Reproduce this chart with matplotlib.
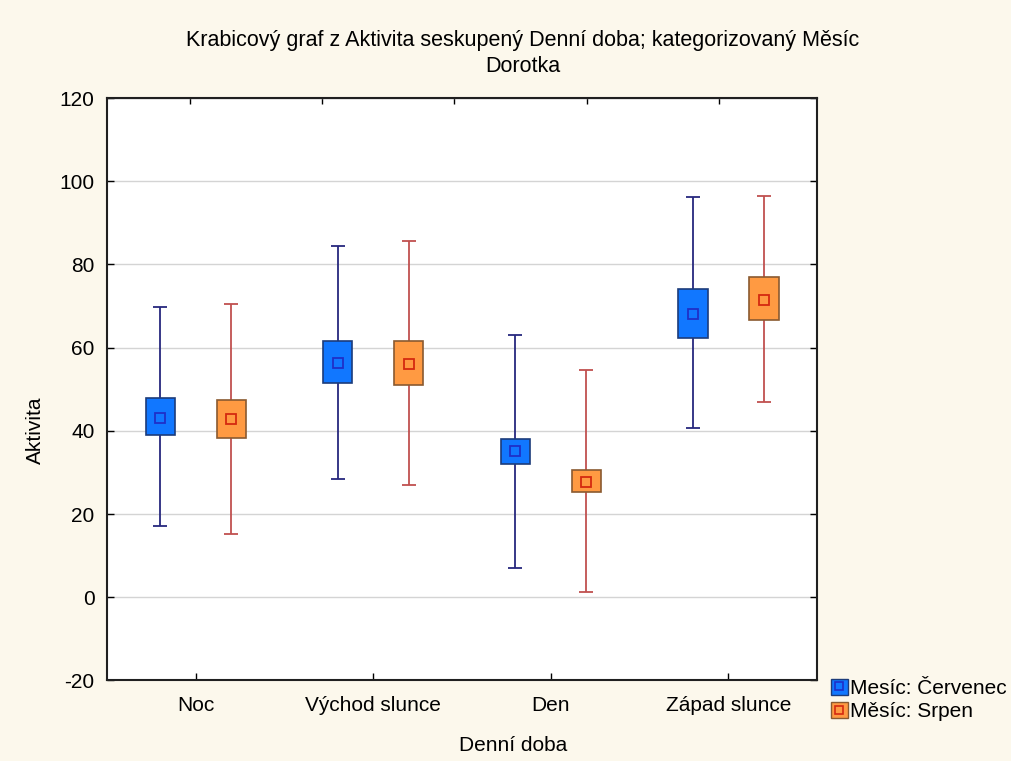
import matplotlib
matplotlib.use("Agg")
import matplotlib.pyplot as plt
import numpy as np
from matplotlib.patches import Patch
from matplotlib.lines import Line2D
from matplotlib.legend_handler import HandlerTuple

plt.rcParams["font.family"] = ["Liberation Sans", "DejaVu Sans"]
plt.rcParams["axes.unicode_minus"] = False

categories = ["Noc", "Východ slunce", "Den", "Západ slunce"]

# Mesíc: Červenec
cerv_mean = [43.2, 56.4, 35.2, 68.0]
cerv_box_low = [39.1, 51.4, 32.0, 62.4]
cerv_box_high = [47.8, 61.7, 38.0, 74.0]
cerv_min = [17.1, 28.4, 7.0, 40.7]
cerv_max = [69.8, 84.4, 63.1, 96.1]

# Měsíc: Srpen
srpen_mean = [42.9, 56.0, 27.8, 71.5]
srpen_box_low = [38.3, 51.0, 25.2, 66.6]
srpen_box_high = [47.4, 61.6, 30.5, 77.0]
srpen_min = [15.1, 27.1, 1.2, 46.9]
srpen_max = [70.5, 85.6, 54.6, 96.4]

series = [
    ("Mesíc: Červenec", cerv_mean, cerv_box_low, cerv_box_high, cerv_min, cerv_max,
     "#1177ff", "#1d3c7a", "#26287e", "#1f2fc8", -0.2),
    ("Měsíc: Srpen", srpen_mean, srpen_box_low, srpen_box_high, srpen_min, srpen_max,
     "#ff9a42", "#8a5a30", "#c0504f", "#d42a10", 0.2),
]

bg = "#fcf8ec"
fs = 15
fig = plt.figure(figsize=(10.11, 7.61), dpi=100, facecolor=bg)
ax = fig.add_axes([0.1058, 0.1058, 0.7025, 0.7654])
ax.set_facecolor("white")

x = np.arange(1, len(categories) + 1)
box_w = 0.165
cap_w = 0.08

handles = []
for name, mean, lo, hi, mn, mx, face, edge, wcol, mcol, off in series:
    xs = x + off
    ax.vlines(xs, mn, mx, color=wcol, lw=1.3, zorder=2)
    ax.hlines(mn, xs - cap_w / 2, xs + cap_w / 2, color=wcol, lw=1.3, zorder=2)
    ax.hlines(mx, xs - cap_w / 2, xs + cap_w / 2, color=wcol, lw=1.3, zorder=2)
    ax.bar(xs, np.array(hi) - np.array(lo), bottom=lo, width=box_w,
           color=face, edgecolor=edge, lw=1.2, zorder=3)
    ax.plot(xs, mean, ls="none", marker="s", ms=6.5, mfc="none",
            mec=mcol, mew=1.3, zorder=4)
    handles.append((Patch(facecolor=face, edgecolor=edge, lw=1.0),
                    Line2D([], [], ls="none", marker="s", ms=5.5, mfc="none",
                           mec=mcol, mew=1.2)))

ax.set_xlim(0.5, 4.5)
ax.set_ylim(-20, 120)
ax.set_yticks(np.arange(-20, 121, 20))
ax.set_xticks(x)
ax.set_xticklabels(categories)
ax.yaxis.grid(True, color="#d4d4d4", lw=1.0)
ax.set_axisbelow(True)
ax.tick_params(direction="in", length=5, width=1, labelsize=fs,
               right=True, colors="black")
ax.tick_params(axis="x", pad=11)
ax.tick_params(axis="y", pad=9)
for s in ax.spines.values():
    s.set_linewidth(1.5)
    s.set_color("#202020")

top = ax.secondary_xaxis("top")
top.set_xticks([0.966, 1.711, 2.457, 3.203, 3.948])
top.tick_params(direction="in", length=4, width=1, labeltop=False)

fig.text(0.517, 0.947, "Krabicový graf z Aktivita seskupený Denní doba; kategorizovaný Měsíc",
         ha="center", va="center", fontsize=15.5)
fig.text(0.517, 0.913, "Dorotka", ha="center", va="center", fontsize=15.5)
fig.text(0.035, 0.435, "Aktivita", rotation=90, ha="center", va="center", fontsize=fs)
fig.text(0.508, 0.021, "Denní doba", ha="center", va="center", fontsize=fs)

fig.legend(handles, [s[0] for s in series], loc="upper left",
           bbox_to_anchor=(0.822, 0.108), frameon=False, fontsize=fs,
           handler_map={tuple: HandlerTuple(ndivide=1, pad=0)},
           handlelength=0.8, handleheight=0.8, handletextpad=0.1,
           labelspacing=0.2, borderaxespad=0, borderpad=0)

fig.savefig("out.png", dpi=100, facecolor=bg)
